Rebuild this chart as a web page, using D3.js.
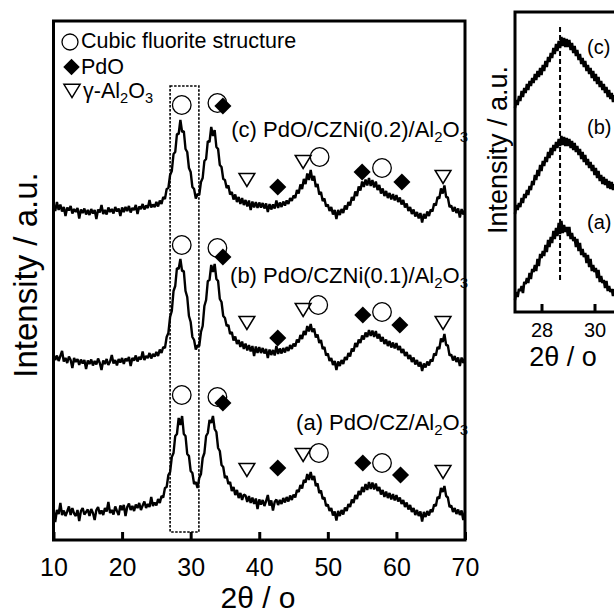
<!DOCTYPE html>
<html lang="en">
<head>
<meta charset="UTF-8">
<title>XRD patterns - PdO/CZNi/Al2O3</title>
<script src="https://d3js.org/d3.v7.min.js"></script>
<style>
  body { margin: 0; background: #fff; }
  svg { display: block; font-family: "Liberation Sans", Arial, Helvetica, sans-serif; }
</style>
</head>
<body>
<div id="chart"></div>
<script>
// ---- data ----
// main patterns: 2theta from 10 to 70 deg, step 0.25
const thetaStart = 10, thetaStep = 0.25;

const intensityA = [310,
  180,300,260,370,250,295,240,285,335,250,320,265,240,300,190,290,320,255,280,305,
  240,310,270,200,300,330,260,295,250,320,285,380,270,300,255,335,290,250,345,300,
  350,240,330,365,300,340,290,355,320,370,300,345,385,320,360,330,430,340,375,345,
  410,370,440,425,520,530,650,680,830,870,1040,1060,1220,1150,1240,1060,1040,860,840,690,
  670,560,580,520,620,660,820,870,1040,1070,1200,1170,1240,1110,1080,920,890,750,730,620,
  640,560,580,490,530,450,500,420,470,400,455,445,380,440,370,425,360,415,310,405,
  355,400,340,390,450,345,395,295,380,405,350,400,360,420,375,430,385,445,400,455,
  425,500,480,550,515,600,575,660,600,680,600,640,540,565,470,495,410,425,340,355,
  290,320,245,285,195,290,240,300,255,325,290,360,330,405,370,450,410,490,450,530,
  480,560,500,580,510,575,505,565,490,530,455,500,430,485,420,470,405,460,395,450,
  385,425,360,400,330,375,305,350,280,320,250,300,240,285,185,280,230,290,245,305,
  280,355,340,430,415,520,480,540,440,425,330,345,280,320,260,305,250,295,200,285];

const intensityB = [355,
  300,345,290,340,390,285,320,270,335,300,220,320,280,310,250,305,265,300,210,295,
  260,305,245,290,255,315,270,200,295,260,310,250,285,350,265,300,245,310,275,320,
  260,315,290,330,240,320,295,345,285,330,305,385,300,340,320,370,315,360,335,380,
  340,405,370,430,420,530,570,730,790,990,1040,1220,1210,1310,1190,1190,990,930,740,680,
  530,500,405,445,440,580,640,840,900,1090,1100,1250,1180,1260,1110,1090,910,880,740,720,
  640,650,560,580,495,535,460,500,430,485,410,465,395,450,385,440,340,435,370,430,
  370,420,365,410,320,405,350,400,345,440,360,415,365,420,375,430,390,450,410,465,
  435,505,475,550,510,590,550,640,585,660,580,615,525,555,470,500,410,430,345,365,
  290,320,250,290,200,285,240,300,260,330,300,370,335,415,385,470,430,505,470,545,
  505,575,530,600,540,595,530,590,515,560,485,530,460,505,440,490,425,475,415,470,
  400,440,370,410,340,380,310,350,280,325,255,300,235,280,190,265,225,285,245,305,
  285,365,345,430,410,515,480,560,450,445,345,355,295,340,280,325,240,325,270,320];

const intensityC = [345,
  290,380,300,355,285,330,240,325,295,340,265,310,280,320,215,305,270,315,255,300,
  250,310,265,300,210,305,275,350,260,300,255,325,280,310,265,330,285,315,240,325,
  280,330,290,340,275,320,300,350,260,335,310,360,305,345,320,400,325,355,330,380,
  335,395,360,430,410,510,520,650,690,860,880,1060,1060,1200,1080,1090,910,880,720,680,
  530,510,415,460,450,580,620,790,810,990,980,1130,1040,1100,930,910,750,730,610,600,
  520,545,455,480,405,455,380,430,360,420,350,400,335,395,300,385,325,380,320,375,
  325,370,315,365,280,360,305,355,315,395,320,375,330,385,345,395,360,420,390,445,
  420,500,465,555,510,610,560,665,600,700,595,640,530,560,455,480,390,415,335,355,
  290,330,255,300,210,300,250,310,270,345,305,380,345,430,395,485,440,535,495,585,
  530,605,545,620,540,600,525,585,500,550,465,515,440,490,420,470,405,460,395,450,
  380,425,355,400,325,365,290,330,260,305,235,280,215,270,175,260,215,285,240,305,
  285,365,345,430,415,515,465,545,430,425,330,345,285,330,270,315,225,310,255,300];

// vertical stacking of the three patterns (a.u.)
const seriesOffsets = [0, 1500, 3000];
const seriesLabels = ["(a) PdO/CZ/Al", "(b) PdO/CZNi(0.1)/Al", "(c) PdO/CZNi(0.2)/Al"];

// phase marks: [2theta, intensity above own baseline, phase]
const marksA = [[28.7,1450,"fluorite"],[33.9,1430,"fluorite"],[34.7,1370,"PdO"],[38.2,700,"alumina"],
  [42.7,720,"PdO"],[46.4,850,"alumina"],[48.7,870,"fluorite"],[55.1,770,"PdO"],[57.9,770,"fluorite"],
  [60.6,650,"PdO"],[66.8,680,"alumina"]];
const marksB = [[28.7,1450,"fluorite"],[33.9,1420,"fluorite"],[34.7,1330,"PdO"],[38.2,670,"alumina"],
  [42.7,520,"PdO"],[46.4,800,"alumina"],[48.6,850,"fluorite"],[55.1,750,"PdO"],[57.9,780,"fluorite"],
  [60.5,650,"PdO"],[66.8,670,"alumina"]];
const marksC = [[28.7,1350,"fluorite"],[33.9,1370,"fluorite"],[34.7,1340,"PdO"],[38.2,600,"alumina"],
  [42.7,530,"PdO"],[46.4,780,"alumina"],[48.8,830,"fluorite"],[55.0,680,"PdO"],[57.9,720,"fluorite"],
  [60.8,580,"PdO"],[66.8,630,"alumina"]];

const xTicks = [10, 20, 30, 40, 50, 60, 70];
const zoomBox = {theta: [27.0, 31.2], intensity: [80, 4540]};

// inset: 2theta 27 to 30.75, step 0.05
const insetStart = 27, insetStep = 0.05;
const insetA = [120,200,150,230,210,260,190,300,280,340,
  290,390,330,430,400,470,410,530,460,580,
  540,610,560,670,600,720,650,750,690,810,
  730,840,760,890,780,910,790,870,800,850,
  760,850,730,790,710,750,650,730,610,690,
  570,630,550,590,490,570,450,530,410,470,
  400,440,340,420,300,360,290,320,240,310,
  210,260,200,230,160,230];
const insetB = [130,220,170,240,200,290,240,330,290,370,
  320,410,370,460,420,520,470,570,510,620,
  560,660,610,700,650,750,690,790,720,820,
  760,850,790,880,810,910,820,900,810,890,
  810,880,790,860,770,840,750,810,720,780,
  680,750,650,720,620,680,590,650,560,620,
  520,590,490,560,460,520,430,500,420,480,
  390,460,380,450,370,430];
const insetC = [140,220,170,260,210,310,250,340,290,380,
  320,410,360,440,390,480,420,510,450,540,
  470,570,510,610,550,650,600,690,640,740,
  680,780,710,810,740,850,760,840,750,830,
  750,820,720,790,690,760,660,720,620,680,
  580,640,550,610,510,570,480,540,440,510,
  410,480,380,450,350,410,320,380,290,350,
  250,320,230,290,200,270];
const insetOffsets = [0, 850, 1900];
const insetLabels = ["(a)", "(b)", "(c)"];
const insetTicks = [28, 30];
const insetRefTheta = 28.7;

// ---- drawing ----
const width = 614, height = 613;
const svg = d3.select("#chart").append("svg")
  .attr("width", width).attr("height", height);
svg.append("rect").attr("width", width).attr("height", height).attr("fill", "#fff");

const x = d3.scaleLinear().domain([10, 70]).range([53.5, 465]);
const y = d3.scaleLinear().domain([0, 5190]).range([540, 21]);

const mainSeries = [intensityA, intensityB, intensityC];
const mainMarks = [marksA, marksB, marksC];

const line = offset => d3.line()
  .x((d, i) => x(thetaStart + i * thetaStep))
  .y(d => y(d + offset));

const plot = svg.append("g");
mainSeries.forEach((s, k) => {
  plot.append("path")
    .datum(s)
    .attr("d", line(seriesOffsets[k]))
    .attr("fill", "none")
    .attr("stroke", "#000")
    .attr("stroke-width", 2.4)
    .attr("stroke-linejoin", "bevel");
});

// marker glyphs
function drawMark(g, type, cx, cy, size) {
  if (type === "fluorite") {
    g.append("circle").attr("cx", cx).attr("cy", cy).attr("r", size)
      .attr("fill", "none").attr("stroke", "#000").attr("stroke-width", 1.3);
  } else if (type === "PdO") {
    const h = size * 0.92;
    g.append("path")
      .attr("d", `M${cx},${cy - h}L${cx + h},${cy}L${cx},${cy + h}L${cx - h},${cy}Z`)
      .attr("fill", "#000");
  } else {
    const w = size * 0.85, h = size * 0.7;
    g.append("path")
      .attr("d", `M${cx - w},${cy - h}L${cx + w},${cy - h}L${cx},${cy + h}Z`)
      .attr("fill", "#fff").attr("stroke", "#000").attr("stroke-width", 1.5);
  }
}

const order = {alumina: 0, fluorite: 1, PdO: 2};
mainMarks.forEach((marks, k) => {
  const g = svg.append("g");
  marks.slice().sort((a, b) => order[a[2]] - order[b[2]]).forEach(m => {
    drawMark(g, m[2], x(m[0]), y(m[1] + seriesOffsets[k]), 9.3);
  });
});

// dotted box around the fluorite (111) peak
svg.append("rect")
  .attr("x", x(zoomBox.theta[0]))
  .attr("y", y(zoomBox.intensity[1]))
  .attr("width", x(zoomBox.theta[1]) - x(zoomBox.theta[0]))
  .attr("height", y(zoomBox.intensity[0]) - y(zoomBox.intensity[1]))
  .attr("fill", "none")
  .attr("stroke", "#000")
  .attr("stroke-width", 1.6)
  .attr("stroke-dasharray", "2.5,1.5");

// frame + bottom axis
svg.append("rect")
  .attr("x", 53.5).attr("y", 21).attr("width", 465 - 53.5).attr("height", 540 - 21)
  .attr("fill", "none").attr("stroke", "#000").attr("stroke-width", 3);

const xAxis = svg.append("g")
  .attr("transform", "translate(0,540)")
  .call(d3.axisBottom(x).tickValues(xTicks).tickSize(-8).tickPadding(18).tickFormat(d3.format("d")));
xAxis.select(".domain").remove();
xAxis.selectAll("line").attr("stroke-width", 3);
xAxis.selectAll("text")
  .attr("font-size", 25)
  .attr("font-family", "Liberation Sans, Arial, sans-serif")
  .attr("fill", "#000");

svg.append("text")
  .attr("x", 258).attr("y", 608)
  .attr("text-anchor", "middle")
  .attr("font-size", 30)
  .text("2θ / o");

svg.append("text")
  .attr("transform", "translate(37,275) rotate(-90)")
  .attr("text-anchor", "middle")
  .attr("font-size", 33)
  .text("Intensity / a.u.");

// series labels with subscripts
function subLabel(g, xPos, yPos, parts, size, anchor) {
  const t = g.append("text")
    .attr("x", xPos).attr("y", yPos)
    .attr("font-size", size)
    .attr("text-anchor", anchor);
  parts.forEach(p => {
    const ts = t.append("tspan").text(p[0]);
    if (p[1]) ts.attr("font-size", size * 0.68).attr("dy", size * 0.22);
    if (p[2]) ts.attr("dy", -size * 0.22);
  });
  return t;
}

const labelBaselines = [430, 283, 137];
seriesLabels.forEach((lab, k) => {
  subLabel(svg, 468, labelBaselines[k],
    [[lab], ["2", true], ["O", false, true], ["3", true]], 22, "end");
});

// legend
const legend = svg.append("g");
drawMark(legend, "fluorite", 70, 42, 8);
drawMark(legend, "PdO", 71.5, 67, 9);
drawMark(legend, "alumina", 72, 91, 9.5);
legend.append("text").attr("x", 81).attr("y", 48).attr("font-size", 21.5).text("Cubic fluorite structure");
legend.append("text").attr("x", 81).attr("y", 74).attr("font-size", 21.5).text("PdO");
subLabel(legend, 83, 98, [["γ-Al"], ["2", true], ["O", false, true], ["3", true]], 21.5, "start");

// ---- inset ----
const xi = d3.scaleLinear().domain([27, 31]).range([515, 621]);
const yi = d3.scaleLinear().domain([0, 3000]).range([312, 12]);
const insetSeries = [insetA, insetB, insetC];
const insetLine = offset => d3.line()
  .x((d, i) => xi(insetStart + i * insetStep))
  .y(d => yi(d + offset));

insetSeries.forEach((s, k) => {
  svg.append("path")
    .datum(s)
    .attr("d", insetLine(insetOffsets[k]))
    .attr("fill", "none")
    .attr("stroke", "#000")
    .attr("stroke-width", 2.6)
    .attr("stroke-linejoin", "bevel");
});

svg.append("line")
  .attr("x1", xi(insetRefTheta)).attr("x2", xi(insetRefTheta))
  .attr("y1", 27).attr("y2", 283)
  .attr("stroke", "#000").attr("stroke-width", 2)
  .attr("stroke-dasharray", "5,3");

svg.append("rect")
  .attr("x", 515).attr("y", 12).attr("width", 120).attr("height", 300)
  .attr("fill", "none").attr("stroke", "#000").attr("stroke-width", 3);

const xiAxis = svg.append("g")
  .attr("transform", "translate(0,312)")
  .call(d3.axisBottom(xi).tickValues(insetTicks).tickSize(-8).tickPadding(11).tickFormat(d3.format("d")));
xiAxis.select(".domain").remove();
xiAxis.selectAll("line").attr("stroke-width", 3);
xiAxis.selectAll("text")
  .attr("font-size", 20)
  .attr("font-family", "Liberation Sans, Arial, sans-serif")
  .attr("fill", "#000");

svg.append("text")
  .attr("x", 563).attr("y", 366)
  .attr("text-anchor", "middle")
  .attr("font-size", 27)
  .text("2θ / o");

svg.append("text")
  .attr("transform", "translate(507,150) rotate(-90)")
  .attr("text-anchor", "middle")
  .attr("font-size", 27)
  .text("Intensity / a.u.");

const insetLabelBaselines = [229, 134, 54];
insetLabels.forEach((lab, k) => {
  svg.append("text")
    .attr("x", 587).attr("y", insetLabelBaselines[k])
    .attr("font-size", 20)
    .text(lab);
});
</script>
</body>
</html>
